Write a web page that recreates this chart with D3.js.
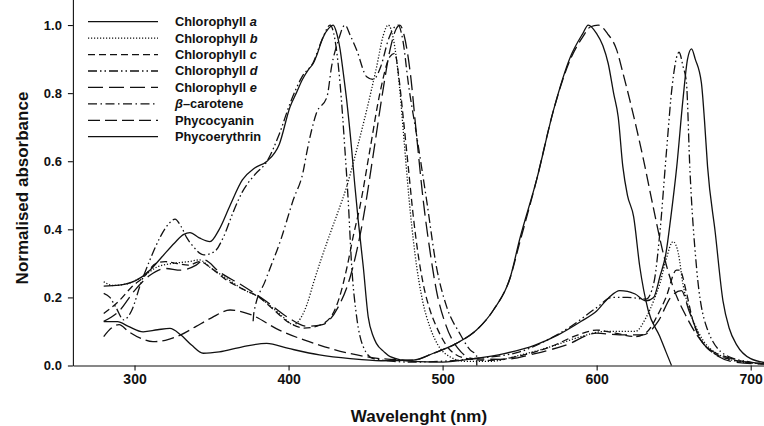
<!DOCTYPE html>
<html><head><meta charset="utf-8">
<script src="https://cdn.jsdelivr.net/npm/d3@7"></script>
<style>body{margin:0;background:#fff}svg{display:block}text{font-family:"Liberation Sans",Arial,sans-serif;font-weight:bold;fill:#111}</style>
</head><body><svg id="c" width="764" height="426"></svg>
<script>
// ---- data (wavelength nm, normalised absorbance) ----
const xTicks = [300, 400, 500, 600, 700];
const yTicks = [0, 0.2, 0.4, 0.6, 0.8, 1.0];
const chlA = [[280,0.233],[290,0.236],[301,0.25],[310,0.28],[318,0.32],[326,0.36],[332,0.385],[336,0.39],[342,0.375],[349,0.364],[355,0.4],[362,0.47],[370,0.545],[378,0.58],[386,0.6],[394,0.65],[401,0.76],[405,0.8],[409,0.84],[413,0.87],[416,0.887],[419,0.92],[422,0.96],[426,0.99],[429,1.0],[431,0.98],[433.4,0.93],[435.5,0.86],[437.7,0.78],[441,0.633],[443,0.53],[445.2,0.427],[448.5,0.29],[451.7,0.143],[455,0.085],[457,0.065],[462,0.04],[466,0.026],[480,0.012],[500,0.01],[520,0.02],[540,0.035],[560,0.06],[575,0.09],[590,0.13],[600,0.16],[608,0.2],[615,0.22],[620,0.218],[625,0.21],[632,0.19],[637,0.2],[641,0.26],[645,0.33],[648,0.43],[652,0.584],[656,0.78],[659,0.9],[661.6,0.93],[664,0.9],[668,0.83],[670,0.72],[672,0.584],[677,0.39],[682,0.19],[686,0.11],[691,0.06],[700,0.02],[710,0.008]];
const chlB = [[280,0.246],[286,0.235],[295,0.24],[305,0.26],[315,0.29],[325,0.3],[335,0.305],[342,0.31],[350,0.285],[360,0.255],[370,0.225],[381,0.2],[390,0.168],[397,0.14],[403,0.12],[408,0.14],[412,0.18],[416,0.24],[421,0.31],[427,0.388],[432,0.45],[437.7,0.525],[444.2,0.633],[450.7,0.75],[457.2,0.878],[461.5,0.97],[464.7,1.0],[468,0.96],[472,0.82],[475,0.66],[478,0.5],[482,0.33],[487,0.19],[492,0.11],[497,0.06],[505,0.025],[515,0.012],[530,0.012],[550,0.03],[570,0.055],[590,0.085],[605,0.1],[615,0.1],[625,0.1],[632,0.14],[637,0.19],[641,0.24],[645,0.31],[649.6,0.364],[653,0.33],[656,0.24],[660.5,0.16],[667,0.09],[680,0.03],[695,0.01],[710,0.005]];
const chlC = [[280,0.153],[290,0.19],[298,0.23],[306,0.26],[314,0.3],[320,0.305],[327,0.3],[335,0.295],[342.5,0.305],[350,0.285],[360,0.25],[370,0.225],[381,0.2],[390,0.165],[401,0.124],[410,0.11],[418,0.115],[427,0.14],[433,0.2],[438,0.29],[442,0.38],[446.3,0.466],[452.8,0.633],[459.3,0.8],[465.8,0.907],[469,0.917],[471.5,0.85],[474.4,0.73],[478,0.57],[481,0.437],[484,0.33],[487.4,0.24],[492,0.16],[496,0.114],[505,0.045],[516,0.02],[530,0.015],[550,0.028],[570,0.055],[588,0.09],[600,0.104],[612,0.095],[625,0.085],[633,0.1],[639,0.143],[645,0.2],[651.8,0.28],[654,0.28],[658,0.22],[662,0.14],[670,0.06],[685,0.02],[710,0.005]];
const chlD = [[280,0.212],[284,0.2],[288,0.17],[293,0.134],[298,0.16],[304,0.24],[310,0.31],[317,0.38],[322,0.415],[326.3,0.43],[330,0.41],[334,0.375],[338,0.35],[345,0.325],[352,0.335],[358,0.38],[364,0.45],[370,0.51],[378,0.56],[386,0.6],[394,0.68],[401,0.77],[409,0.85],[416,0.89],[422,0.96],[427,1.0],[430,0.96],[433.4,0.83],[436.6,0.633],[438.7,0.486],[441,0.29],[444.2,0.143],[448.5,0.055],[455,0.02],[480,0.01],[520,0.02],[550,0.04],[570,0.08],[583,0.114],[600,0.17],[610,0.2],[620,0.2],[632,0.195],[637,0.24],[641,0.388],[645.4,0.633],[649,0.82],[653.5,0.92],[656,0.88],[658.3,0.83],[660.5,0.58],[664.8,0.29],[671.3,0.114],[684,0.03],[700,0.01],[710,0.005]];
const chlE = [[280,0.13],[290,0.16],[300,0.22],[310,0.265],[320,0.285],[330,0.28],[340,0.295],[345,0.31],[355,0.275],[370,0.235],[385,0.19],[400,0.14],[412,0.115],[422,0.12],[432,0.17],[440,0.26],[448,0.42],[455,0.62],[461,0.8],[466,0.93],[470,0.99],[472.3,1.0],[475,0.97],[479,0.86],[483,0.68],[487.4,0.486],[492,0.33],[496,0.22],[502,0.12],[510,0.05],[520,0.02],[540,0.018],[560,0.035],[580,0.06],[600,0.095],[615,0.09],[630,0.09],[640,0.13],[648,0.2],[655,0.22],[660,0.16],[670,0.06],[690,0.01],[710,0.004]];
const betaCarotene = [[377,0.13],[377.5,0.155],[385,0.25],[395,0.37],[403,0.486],[409.5,0.57],[412,0.63],[418,0.74],[425,0.79],[428,0.88],[432,0.95],[436.6,1.0],[440,0.97],[444.2,0.927],[450.7,0.848],[455,0.84],[460,0.88],[465,0.96],[469,0.995],[471.2,1.0],[474,0.96],[478,0.82],[483,0.68],[489.6,0.486],[496,0.29],[502.6,0.173],[511,0.095],[518,0.045],[522,0.03],[522.2,0]];
const phycocyanin = [[280,0.085],[285,0.11],[290,0.12],[296,0.1],[305,0.078],[312,0.07],[320,0.074],[330,0.09],[340,0.115],[350,0.14],[362,0.163],[375,0.15],[394,0.104],[410,0.075],[420,0.06],[440,0.035],[460,0.02],[481,0.016],[494,0.036],[509,0.065],[522,0.104],[533,0.163],[544,0.26],[550,0.36],[561,0.545],[572,0.75],[583,0.9],[591,0.965],[596,0.995],[601,1.0],[607,0.975],[613,0.927],[617,0.86],[621.5,0.78],[630,0.613],[636.7,0.466],[643.2,0.33],[649.6,0.231],[658.3,0.143],[665,0.09],[671.3,0.055],[688,0.02],[710,0.004]];
const phycoerythrin = [[280,0.129],[289,0.129],[296,0.115],[305.6,0.099],[315,0.105],[323,0.109],[330,0.09],[337,0.06],[344.6,0.036],[355,0.04],[370,0.055],[385.8,0.065],[400,0.05],[420,0.031],[440,0.02],[460,0.014],[481,0.016],[494,0.036],[509,0.065],[522,0.104],[533,0.163],[544,0.26],[550,0.37],[561,0.545],[572,0.75],[583,0.907],[591,0.975],[594.5,1.0],[600,0.975],[604,0.94],[607.5,0.887],[611,0.8],[614,0.73],[617,0.584],[620,0.5],[624,0.437],[628,0.29],[633.4,0.163],[641,0.085],[645,0.04],[648.6,0.0]];

const seriesNames = ["Chlorophyll a","Chlorophyll b","Chlorophyll c","Chlorophyll d","Chlorophyll e","β–carotene","Phycocyanin","Phycoerythrin"];
const seriesData = [chlA, chlB, chlC, chlD, chlE, betaCarotene, phycocyanin, phycoerythrin];
const dashes = [null, "1.2,1.8", "7,4", "9,3,1.5,3,1.5,3", "15,6", "9,3.5,1.5,3.5", "12,5", null];

// ---- layout ----
const svg = d3.select("#c");
const x = d3.scaleLinear().domain([260, 710]).range([72.9, 766.1]);
const y = d3.scaleLinear().domain([0, 1.075]).range([365.5, -0.5]);

const line = d3.line().x(d => x(d[0])).y(d => y(d[1])).curve(d3.curveMonotoneX);

const g = svg.append("g");
seriesData.forEach((s, i) => {
  g.append("path").datum(s).attr("d", line)
    .attr("fill", "none").attr("stroke", "#111").attr("stroke-width", 1.3)
    .attr("stroke-dasharray", dashes[i]);
});

// axes
const xAxis = svg.append("g").attr("transform", `translate(0,${y(0)})`)
  .call(d3.axisBottom(x).tickValues(xTicks).tickSize(5).tickSizeOuter(0).tickPadding(4));
const yAxis = svg.append("g").attr("transform", `translate(${x(260)},0)`)
  .call(d3.axisLeft(y).tickValues(yTicks).tickFormat(d3.format(".1f")).tickSize(5).tickSizeOuter(0).tickPadding(6));
[xAxis, yAxis].forEach(a => {
  a.selectAll("path,line").attr("stroke", "#111").attr("stroke-width", 1.1);
  a.selectAll("text").attr("font-family", '"Liberation Sans",Arial,sans-serif').attr("font-weight", "bold").attr("fill", "#111");
});
xAxis.selectAll("text").attr("font-size", 14);
yAxis.selectAll("text").attr("font-size", 13);

// axis titles
svg.append("text").attr("x", 419).attr("y", 422).attr("text-anchor", "middle")
  .attr("font-size", 17).text("Wavelenght (nm)");
svg.append("text").attr("transform", "translate(28,188) rotate(-90)").attr("text-anchor", "middle")
  .attr("font-size", 17).text("Normalised absorbance");

// legend
const lg = svg.append("g");
seriesNames.forEach((n, i) => {
  const yy = 21.7 + i * 16.43;
  lg.append("line").attr("x1", 88).attr("x2", 158).attr("y1", yy).attr("y2", yy)
    .attr("stroke", "#111").attr("stroke-width", 1.3).attr("stroke-dasharray", dashes[i]);
  const t = lg.append("text").attr("x", 175).attr("y", yy + 4.5).attr("font-size", 12.8);
  if (n.startsWith("Chlorophyll")) {
    t.append("tspan").text("Chlorophyll ");
    t.append("tspan").attr("font-style", "italic").text(n.slice(-1));
  } else if (n.startsWith("β")) {
    t.append("tspan").attr("font-style", "italic").text("β");
    t.append("tspan").text(n.slice(1));
  } else {
    t.text(n);
  }
});
</script></body></html>
